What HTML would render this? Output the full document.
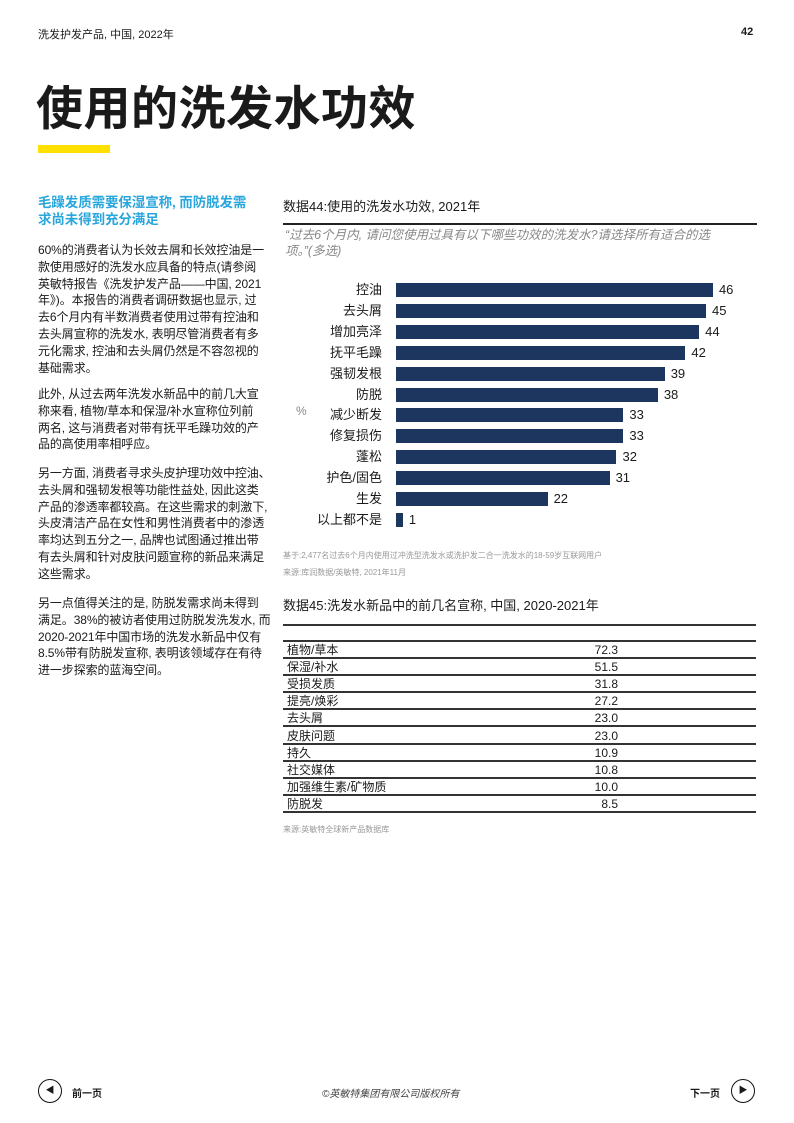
<!DOCTYPE html>
<html><head><meta charset="utf-8"><style>
*{margin:0;padding:0;box-sizing:border-box}
body{width:794px;height:1123px;background:#fff;position:relative;font-family:"Liberation Sans","Noto Sans CJK SC",sans-serif;color:#1a1a1a;overflow:hidden}
.a{position:absolute;white-space:nowrap}
.p{position:absolute;left:38px;font-size:12px;line-height:16.8px;white-space:nowrap;letter-spacing:-0.1px}
.bar{position:absolute;height:14px;background:#1c3660;left:396px}
.lab{position:absolute;right:412px;font-size:13px;line-height:14px;text-align:right}
.val{position:absolute;font-size:13px;line-height:14px}
.row{position:absolute;left:283px;width:473px;height:17.1px;border-bottom:2px solid #333;font-size:12px;line-height:16px}
.row span{position:absolute;left:4px}
.row b{position:absolute;left:305px;font-weight:normal;width:30px;text-align:right}
.circ{position:absolute;width:24px;height:24px;border:1.5px solid #111;border-radius:50%;font-size:9px;text-align:center;line-height:21px}
</style></head><body>
<div class="a" style="left:38px;top:26px;font-size:11px">洗发护发产品, 中国, 2022年</div>
<div class="a" style="left:741px;top:26px;font-size:11px;font-weight:bold">42</div>
<div class="a" style="left:36px;top:70px;font-size:47px;font-weight:bold;letter-spacing:0.5px">使用的洗发水功效</div>
<div class="a" style="left:38px;top:145px;width:72px;height:8px;background:#ffe000"></div>

<div class="p" style="top:194px;color:#29a6dc;font-weight:bold;font-size:13.5px;line-height:17px">毛躁发质需要保湿宣称, 而防脱发需<br>求尚未得到充分满足</div>
<div class="p" style="top:242px">60%的消费者认为长效去屑和长效控油是一<br>款使用感好的洗发水应具备的特点(请参阅<br>英敏特报告《洗发护发产品——中国, 2021<br>年》)。本报告的消费者调研数据也显示, 过<br>去6个月内有半数消费者使用过带有控油和<br>去头屑宣称的洗发水, 表明尽管消费者有多<br>元化需求, 控油和去头屑仍然是不容忽视的<br>基础需求。</div>
<div class="p" style="top:386px">此外, 从过去两年洗发水新品中的前几大宣<br>称来看, 植物/草本和保湿/补水宣称位列前<br>两名, 这与消费者对带有抚平毛躁功效的产<br>品的高使用率相呼应。</div>
<div class="p" style="top:465px">另一方面, 消费者寻求头皮护理功效中控油、<br>去头屑和强韧发根等功能性益处, 因此这类<br>产品的渗透率都较高。在这些需求的刺激下,<br>头皮清洁产品在女性和男性消费者中的渗透<br>率均达到五分之一, 品牌也试图通过推出带<br>有去头屑和针对皮肤问题宣称的新品来满足<br>这些需求。</div>
<div class="p" style="top:595px">另一点值得关注的是, 防脱发需求尚未得到<br>满足。38%的被访者使用过防脱发洗发水, 而<br>2020-2021年中国市场的洗发水新品中仅有<br>8.5%带有防脱发宣称, 表明该领域存在有待<br>进一步探索的蓝海空间。</div>

<div class="a" style="left:283px;top:196px;font-size:13px">数据44:使用的洗发水功效, 2021年</div>
<div class="a" style="left:283px;top:223px;width:474px;height:2px;background:#222"></div>
<div class="a" style="left:285px;top:227px;font-size:12.5px;line-height:16px;color:#888;font-style:italic">“过去6个月内, 请问您使用过具有以下哪些功效的洗发水?请选择所有适合的选<br>项。”(多选)</div>
<div class="a" style="left:296px;top:404px;font-size:12px;color:#888">%</div>

<div id="chart"></div>
<script>
var d=[["控油",46],["去头屑",45],["增加亮泽",44],["抚平毛躁",42],["强韧发根",39],["防脱",38],["减少断发",33],["修复损伤",33],["蓬松",32],["护色/固色",31],["生发",22],["以上都不是",1]];
var h="";d.forEach(function(r,i){var y=283+i*20.9;var w=r[1]*6.89;
h+='<div class="lab" style="top:'+y+'px">'+r[0]+'</div><div class="bar" style="top:'+y+'px;width:'+w+'px"></div><div class="val" style="top:'+y+'px;left:'+(396+w+6)+'px">'+r[1]+'</div>';});
document.getElementById("chart").innerHTML=h;
</script>

<div class="a" style="left:283px;top:550px;font-size:8px;color:#999">基于:2,477名过去6个月内使用过冲洗型洗发水或洗护发二合一洗发水的18-59岁互联网用户</div>
<div class="a" style="left:283px;top:567px;font-size:8px;color:#999">来源:库润数据/英敏特, 2021年11月</div>
<div class="a" style="left:283px;top:595px;font-size:13px">数据45:洗发水新品中的前几名宣称, 中国, 2020-2021年</div>
<div class="a" style="left:283px;top:624px;width:473px;height:2px;background:#333"></div>
<div class="a" style="left:283px;top:640px;width:473px;height:2px;background:#333"></div>
<div id="tb"></div>
<script>
var t=[["植物/草本","72.3"],["保湿/补水","51.5"],["受损发质","31.8"],["提亮/焕彩","27.2"],["去头屑","23.0"],["皮肤问题","23.0"],["持久","10.9"],["社交媒体","10.8"],["加强维生素/矿物质","10.0"],["防脱发","8.5"]];
var s="";t.forEach(function(r,i){s+='<div class="row" style="top:'+(642+i*17.1)+'px"><span>'+r[0]+'</span><b>'+r[1]+'</b></div>';});
document.getElementById("tb").innerHTML=s;
</script>
<div class="a" style="left:283px;top:824px;font-size:8px;color:#999">来源:英敏特全球新产品数据库</div>

<div class="circ" style="left:38px;top:1079px">◀</div>
<div class="a" style="left:72px;top:1085px;font-size:10px;font-weight:bold">前一页</div>
<div class="a" style="left:322px;top:1085px;font-size:10px;font-style:italic;color:#444">©英敏特集团有限公司版权所有</div>
<div class="a" style="left:690px;top:1085px;font-size:10px;font-weight:bold">下一页</div>
<div class="circ" style="left:731px;top:1079px">▶</div>
</body></html>
